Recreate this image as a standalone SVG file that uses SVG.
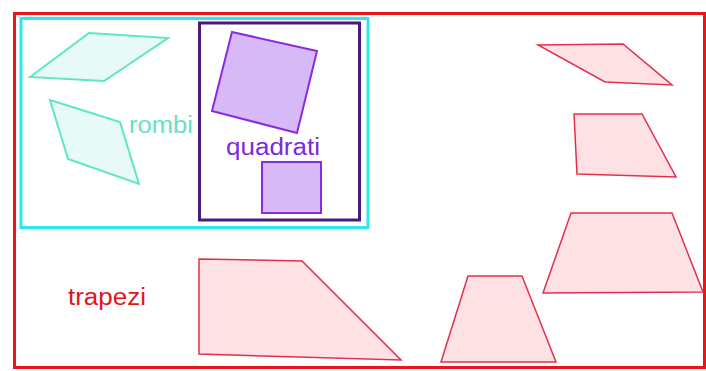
<svg xmlns="http://www.w3.org/2000/svg" width="706" height="371" viewBox="0 0 706 371">
<style>
.lbl{font-family:"Liberation Sans",Arial,sans-serif;font-size:23px}
.rh{fill:#e8faf6;stroke:#5ee6c6;stroke-width:2}
.sq{fill:#d8b9f7;stroke:#8a2be2;stroke-width:2}
.tr{fill:#fde1e4;stroke:#e2304c;stroke-width:1.5}
</style>
<rect width="706" height="371" fill="#ffffff"/>
<g id="trapezi-set">
<rect x="14.5" y="13.5" width="690" height="354" fill="none" stroke="#e8141e" stroke-width="3"/>
<text class="lbl" x="68" y="305" fill="#e0141e" font-size="24" textLength="78" lengthAdjust="spacingAndGlyphs">trapezi</text>
</g>
<g id="rombi-set">
<rect x="21" y="18.5" width="347" height="209" fill="none" stroke="#2ee6f0" stroke-width="3"/>
<text class="lbl" x="129" y="133" fill="#66e0c6" textLength="64" lengthAdjust="spacingAndGlyphs">rombi</text>
</g>
<g id="quadrati-set">
<rect x="199.5" y="23" width="160" height="197" fill="none" stroke="#4a1a78" stroke-width="3"/>
<text class="lbl" x="226" y="155" fill="#7b2ae0" textLength="94" lengthAdjust="spacingAndGlyphs">quadrati</text>
</g>
<g id="rombo1"><polygon class="rh" points="30,77 89,33 168,38 104,81"/></g>
<g id="rombo2"><polygon class="rh" points="50,100 120,122 139,184 68,159"/></g>
<g id="quadrato1"><polygon class="sq" points="232,32 317,51 297,133 212,111"/></g>
<g id="quadrato2"><rect class="sq" x="262" y="162" width="59" height="51"/></g>
<g id="trapezio1"><polygon class="tr" points="538,45 623,44 672,85 605,82"/></g>
<g id="trapezio2"><polygon class="tr" points="574,114 642,114 676,177 577,174"/></g>
<g id="trapezio3"><polygon class="tr" points="571,213 672,213 703,292 543,293"/></g>
<g id="trapezio4"><polygon class="tr" points="468,276 522,276 556,362 441,362"/></g>
<g id="trapezio5"><polygon class="tr" points="199,259 302,261 401,360 199,354"/></g>
<g id="connectors"></g>
</svg>
